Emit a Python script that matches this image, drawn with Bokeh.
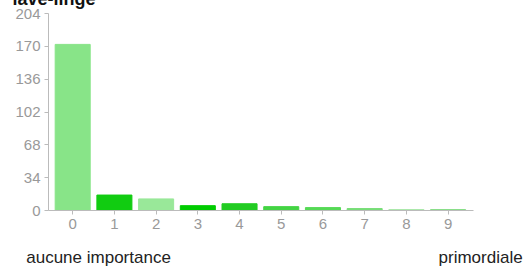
from bokeh.plotting import figure
from bokeh.models import FixedTicker, LinearAxis, ColumnDataSource, Range1d
from bokeh.embed import file_html
from bokeh.resources import INLINE

title = "lave-linge"
categories = [0, 1, 2, 3, 4, 5, 6, 7, 8, 9]
counts = [172, 16, 12, 5, 7, 4, 3, 2, 1, 1]
colors = ["#88e488", "#11cc11", "#99e899", "#00cc00", "#22cc22",
          "#44d444", "#55d955", "#77dd77", "#aae8aa", "#88dd88"]
y_ticks = [0, 34, 68, 102, 136, 170, 204]
low_label = "aucune importance"
high_label = "primordiale"
end_label_pos = [0.62, 9.78]   # layout positions for the two scale-end captions

src = ColumnDataSource(dict(x=categories, top=counts, color=colors))

p = figure(width=531, height=288, output_backend="svg", toolbar_location=None,
           x_range=Range1d(-0.58, 11.0), y_range=Range1d(0, 204),
           min_border_left=48, min_border_right=0, min_border_top=0,
           min_border_bottom=0)
p.styles = {"margin-top": "-19px", "margin-bottom": "-20px"}
p.outline_line_color = None
p.grid.visible = False
p.background_fill_color = "white"

p.title.text = title
p.title.text_font = "Liberation Sans"
p.title.text_font_size = "18px"
p.title.text_font_style = "bold"
p.title.text_color = "#111111"
p.title.align = "left"
p.title.offset = -36
p.title.standoff = 10

p.vbar(x="x", top="top", width=0.84, bottom=0, color="color", source=src)

for ax in (p.xaxis[0], p.yaxis[0]):
    ax.axis_line_color = "#bbbbbb"
    ax.major_tick_line_color = "#bbbbbb"
    ax.major_tick_out = 4
    ax.major_tick_in = 0
    ax.minor_tick_line_color = None
    ax.major_label_text_color = "#999999"
    ax.major_label_text_font = "Liberation Sans"
    ax.major_label_text_font_size = "15px"
    ax.major_label_standoff = 4

p.xaxis[0].bounds = (-0.58, 9.6)
p.xaxis[0].ticker = FixedTicker(ticks=categories)
p.yaxis[0].ticker = FixedTicker(ticks=y_ticks)

cap = LinearAxis(ticker=FixedTicker(ticks=end_label_pos),
                 major_label_overrides={end_label_pos[0]: low_label,
                                        end_label_pos[1]: high_label})
cap.axis_line_color = None
cap.major_tick_line_color = None
cap.minor_tick_line_color = None
cap.major_tick_out = 0
cap.major_tick_in = 0
cap.major_label_standoff = 16
cap.major_label_text_font = "Liberation Sans"
cap.major_label_text_font_size = "17px"
cap.major_label_text_color = "#222222"
p.add_layout(cap, "below")

open("out.html", "w").write(file_html(p, INLINE))
